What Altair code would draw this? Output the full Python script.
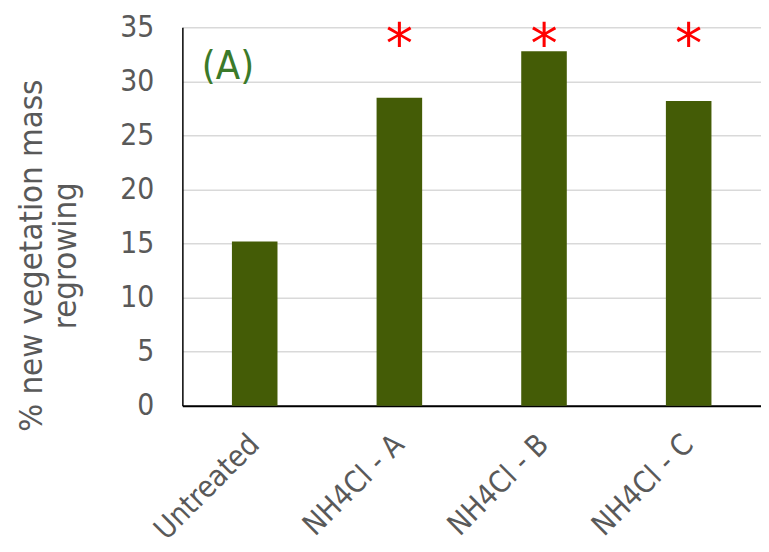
import altair as alt
import pandas as pd

categories = ["Untreated", "NH4Cl - A", "NH4Cl - B", "NH4Cl - C"]
values = [15.2, 28.5, 32.8, 28.2]
stars = ["", "*", "*", "*"]
y_ticks = [0, 5, 10, 15, 20, 25, 30, 35]
panel_label = "(A)"

df = pd.DataFrame({"cat": categories, "val": values, "star": stars})

FONT = "DejaVu Sans Condensed"
GRAY = "#595959"

x_scale = alt.Scale(paddingInner=0.685, paddingOuter=0.3425)

x_enc = alt.X(
    "cat:N",
    sort=categories,
    scale=x_scale,
    axis=alt.Axis(
        title=None,
        labelAngle=-45,
        labelAlign="right",
        labelBaseline="middle",
        labelFontSize=30,
        labelFont=FONT,
        labelColor=GRAY,
        labelPadding=34,
        labelOffset=0,
        ticks=False,
        domainColor="#000000",
        domainWidth=2,
        grid=False,
    ),
)

y_scale = alt.Scale(domain=[0, 35], nice=False)

bars = alt.Chart(df).mark_bar(color="#445C06").encode(
    x=x_enc,
    y=alt.Y(
        "val:Q",
        scale=y_scale,
        axis=alt.Axis(
            title=["% new vegetation mass", "regrowing"],
            titleFont=FONT,
            titleFontSize=33,
            titleFontWeight="normal",
            titleColor=GRAY,
            titleBaseline="alphabetic",
            titleAlign="center",
            titleAngle=270,
            titleX=-142,
            titleY=230,
            titleLineHeight=34,
            values=y_ticks,
            labelFont=FONT,
            labelFontSize=30,
            labelColor=GRAY,
            labelPadding=29,
            ticks=False,
            domainColor="#000000",
            domainWidth=1.5,
            gridColor="#D9D9D9",
            gridWidth=1.5,
        ),
    ),
)

star_text = alt.Chart(df).mark_text(
    color="#FF0000", fontSize=55, font="DejaVu Sans", baseline="middle"
).encode(
    x=alt.X("cat:N", sort=categories, scale=x_scale),
    y=alt.datum(33.3),
    text="star:N",
)

label = alt.Chart(pd.DataFrame({"t": [panel_label]})).mark_text(
    color="#3B7A2A", fontSize=40, font=FONT, baseline="middle", align="center", dx=-27
).encode(
    x=alt.datum("Untreated"),
    y=alt.datum(31.3),
    text="t:N",
)

chart = (
    alt.layer(bars, star_text, label)
    .properties(
        width=584,
        height=382,
        autosize=alt.AutoSizeParams(type="none"),
        padding={"left": 176, "top": 17, "right": 0, "bottom": 144},
    )
    .configure_view(stroke=None)
)

chart.save("out.html", embed_options={"renderer": "svg", "actions": False})
